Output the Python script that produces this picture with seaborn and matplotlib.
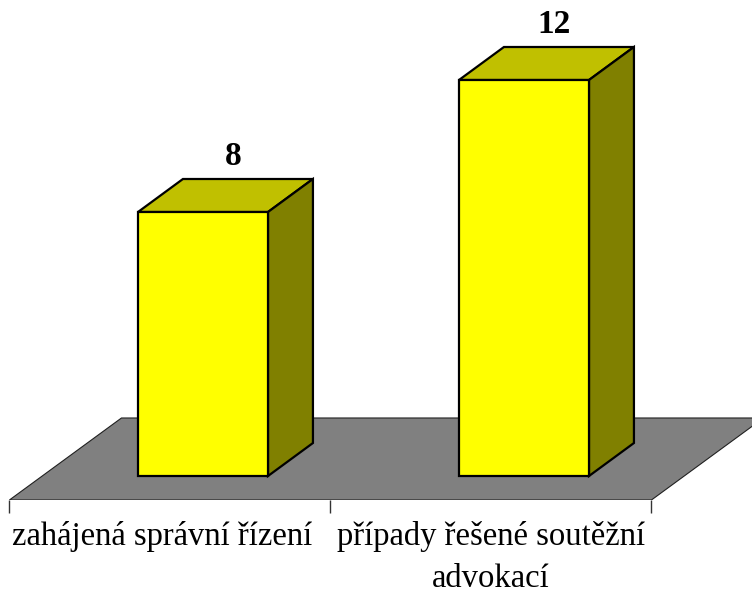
# 3D-style column chart (Excel look) drawn with seaborn + polygons
import numpy as np
import pandas as pd
import matplotlib.pyplot as plt
import seaborn as sns
from matplotlib.patches import Polygon

# data
categories = ["zahájená správní řízení", "případy řešené soutěžní\nadvokací"]
values = [8, 12]

# colours
front_col = "#FFFF00"
top_col = "#C0C000"
side_col = "#808000"
floor_col = "#808080"

# pseudo-3D geometry (data units)
bar_w = 0.405      # bar width
dep_x = 0.14       # bar depth, horizontal
dep_y = 1.0        # bar depth, vertical
shift = 0.103      # floor front edge sits in front of the bars
floor_front = -0.727
floor_dx = 0.349
floor_dy = 2.485
label_nudge = [-0.025, 0.0]   # small horizontal tweak of the category labels

sns.set_style("white")
plt.rcParams["font.family"] = ["Liberation Serif", "DejaVu Serif"]
plt.rcParams["text.color"] = "black"
plt.rcParams["xtick.color"] = "black"

fig = plt.figure(figsize=(7.52, 5.89), dpi=100)
ax = fig.add_axes([0, 89 / 589, 1, 500 / 589])

df = pd.DataFrame({"kat": categories, "hodnota": values})

# floor
n = len(categories)
x0 = -0.5 - shift
x1 = n - 0.5 - shift
floor = Polygon([(x0, floor_front), (x1, floor_front),
                 (x1 + floor_dx, floor_front + floor_dy),
                 (x0 + floor_dx, floor_front + floor_dy)],
                closed=True, facecolor=floor_col, edgecolor="#202020",
                linewidth=0.8, zorder=0)
ax.add_patch(floor)

# front faces
sns.barplot(data=df, x="kat", y="hodnota", color=front_col, saturation=1,
            width=bar_w, edgecolor="black", linewidth=1.6, ax=ax, zorder=3)

# top and side faces + value labels
for i, v in enumerate(values):
    l = i - bar_w / 2
    r = i + bar_w / 2
    top = Polygon([(l, v), (r, v), (r + dep_x, v + dep_y), (l + dep_x, v + dep_y)],
                  closed=True, facecolor=top_col, edgecolor="black",
                  linewidth=1.6, zorder=2)
    side = Polygon([(r, 0), (r + dep_x, dep_y), (r + dep_x, v + dep_y), (r, v)],
                   closed=True, facecolor=side_col, edgecolor="black",
                   linewidth=1.6, zorder=2)
    ax.add_patch(top)
    ax.add_patch(side)
    ax.text(i + 0.093, v + dep_y + 0.2, str(v), ha="center", va="bottom",
            fontsize=24, fontweight="bold", color="black")

ax.set_xlim(-203 / 321, 549 / 321)
ax.set_ylim(floor_front, 476 / 33)

# axis ticks: boundaries as minor ticks, labels at floor centre
ax.set_xticks([i - shift + label_nudge[i] for i in range(n)], labels=categories)
ax.set_xticks([x0 + k for k in range(n + 1)], minor=True)
ax.tick_params(axis="x", which="major", length=0, pad=15, labelsize=23.5)
ax.tick_params(axis="x", which="minor", length=9.5, width=1, color="#333333",
               direction="out", bottom=True)
for t in ax.get_xticklabels():
    t.set_linespacing(1.5)
ax.set_yticks([])
ax.set_xlabel("")
ax.set_ylabel("")
for s in ax.spines.values():
    s.set_visible(False)

plt.savefig("out.png", dpi=100)
